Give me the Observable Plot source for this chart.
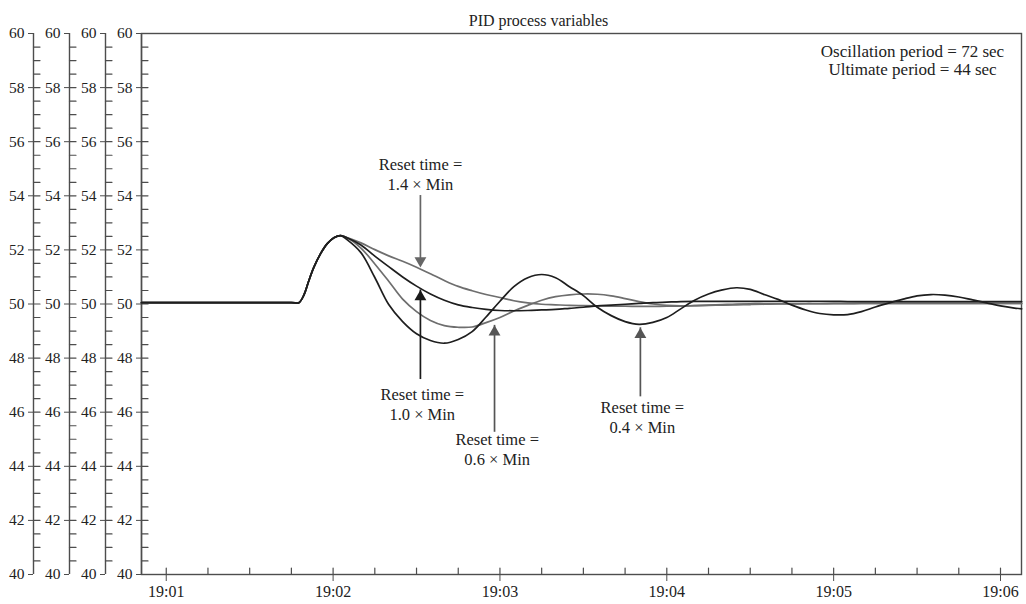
<!DOCTYPE html>
<html>
<head>
<meta charset="utf-8">
<script src="https://cdn.jsdelivr.net/npm/d3@7"></script>
<script src="https://cdn.jsdelivr.net/npm/@observablehq/plot@0.6"></script>
<style>
  body { margin: 0; background: #fff; }
</style>
</head>
<body>
<div id="chart"></div>
<script>
// Sample times, in seconds after 19:00:00
const seconds = [51.1, 105, 107.7, 109.5, 111.3, 113.1, 115.5, 117.9, 120.3, 122.7,
  125, 130, 135, 140, 145, 150, 155, 160, 165, 170,
  175, 180, 185, 190, 195, 200, 205, 210, 215, 220,
  225, 230, 235, 240, 245, 250, 255, 260, 265, 270,
  275, 280, 285, 290, 295, 300, 305, 310, 315, 320,
  325, 330, 335, 340, 345, 350, 355, 360, 365, 367.6];

// Process variable for each reset time setting
const reset04 = [50.05, 50.05, 50.05, 50.33, 50.87, 51.36, 51.86, 52.23, 52.45, 52.53,
  52.38, 51.9, 50.98, 49.98, 49.35, 48.9, 48.65, 48.55, 48.69, 48.98,
  49.52, 50.1, 50.64, 50.97, 51.09, 50.97, 50.64, 50.31, 49.88, 49.57,
  49.35, 49.25, 49.32, 49.5, 49.82, 50.14, 50.37, 50.52, 50.6, 50.54,
  50.35, 50.17, 49.96, 49.78, 49.65, 49.6, 49.61, 49.72, 49.89, 50.04,
  50.18, 50.3, 50.35, 50.33, 50.26, 50.15, 50.04, 49.93, 49.85, 49.82];
const reset06 = [50.05, 50.05, 50.05, 50.33, 50.87, 51.36, 51.86, 52.23, 52.45, 52.53,
  52.45, 52.07, 51.48, 50.84, 50.18, 49.72, 49.39, 49.2, 49.14, 49.15,
  49.31, 49.5, 49.74, 49.95, 50.14, 50.27, 50.34, 50.37, 50.36, 50.3,
  50.2, 50.09, 50.0, 49.95, 49.93, 49.94, 49.95, 49.96, 49.97, 49.98,
  49.99, 50.0, 50.0, 50.01, 50.01, 50.02, 50.02, 50.02, 50.02, 50.02,
  50.02, 50.02, 50.02, 50.02, 50.02, 50.02, 50.02, 50.02, 50.02, 50.02];
const reset10 = [50.05, 50.05, 50.05, 50.33, 50.87, 51.36, 51.86, 52.23, 52.45, 52.53,
  52.45, 52.18, 51.77, 51.38, 51.0, 50.66, 50.37, 50.14, 49.97, 49.87,
  49.8, 49.76, 49.75, 49.76, 49.78, 49.8, 49.84, 49.88, 49.93, 49.96,
  49.99, 50.02, 50.05, 50.07, 50.09, 50.1, 50.1, 50.1, 50.1, 50.1,
  50.1, 50.1, 50.1, 50.1, 50.1, 50.1, 50.09, 50.09, 50.09, 50.09,
  50.09, 50.09, 50.09, 50.09, 50.09, 50.09, 50.09, 50.09, 50.09, 50.09];
const reset14 = [50.05, 50.05, 50.05, 50.33, 50.87, 51.36, 51.86, 52.23, 52.45, 52.53,
  52.46, 52.26, 52.01, 51.78, 51.58, 51.36, 51.12, 50.87, 50.65, 50.49,
  50.35, 50.24, 50.12, 50.04, 49.99, 49.97, 49.95, 49.94, 49.93, 49.92,
  49.92, 49.91, 49.91, 49.92, 49.92, 49.94, 49.96, 49.98, 50.0, 50.01,
  50.01, 50.01, 50.01, 50.01, 50.01, 50.01, 50.01, 50.02, 50.02, 50.02,
  50.02, 50.02, 50.02, 50.02, 50.02, 50.02, 50.02, 50.02, 50.02, 50.02];

// Arrow annotations: time (s), tail value, tip value, label position
const noteText = ["Reset time =\n1.4 × Min", "Reset time =\n1.0 × Min", "Reset time =\n0.6 × Min", "Reset time =\n0.4 × Min"];
const noteTime = [151.4, 151.4, 178.05, 230.5];
const noteTail = [54.01, 47.54, 45.59, 46.9];
const noteTip = [51.35, 50.52, 49.21, 49.12];
const noteLabelTime = [151.4, 152.05, 179.0, 231.2];
const noteLabelValue = [54.81, 46.32, 44.64, 45.83];

const yTickLabels = [40, 42, 44, 46, 48, 50, 52, 54, 56, 58, 60];
const xTickLabels = ["19:01", "19:02", "19:03", "19:04", "19:05", "19:06"];

const title = "PID process variables";
const periodNote = "Oscillation period = 72 sec\nUltimate period = 44 sec";

// ---------------------------------------------------------------
const base = Date.UTC(2024, 0, 1, 19, 0, 0);
const at = s => new Date(base + s * 1000);
const x0 = at(51.1), x1 = at(367.55);

const dark = "#1e1e1e", gray = "#6e6e6e", axisInk = "#4d4d4d", textInk = "#222";

const series = [
  {values: reset14, stroke: gray},
  {values: reset06, stroke: gray},
  {values: reset10, stroke: dark},
  {values: reset04, stroke: dark}
];
const arrowInk = ["#666", "#1a1a1a", "#555", "#555"];

const notes = noteText.map((text, i) => ({
  text, time: at(noteTime[i]), tail: noteTail[i], tip: noteTip[i],
  lt: at(noteLabelTime[i]), lv: noteLabelValue[i], ink: arrowInk[i],
  down: noteTip[i] < noteTail[i]
}));

const xTickDates = xTickLabels.map(s => {
  const [h, m] = s.split(":").map(Number);
  return new Date(Date.UTC(2024, 0, 1, h, m, 0));
});
const xInner = d3.range(60, 361, 15).map(at);
const yInner = d3.range(40.5, 60, 0.5);

// a plain tick stroke drawn from the anchor point upwards (before rotation)
const tickShape = {draw(context, l) { context.moveTo(0, 0); context.lineTo(0, -l); }};

const marks = [];

// four stacked value axes on the left
for (const off of [0, -36, -72, -108]) {
  marks.push(Plot.ruleX([x0], {y1: 40, y2: 60, dx: off, stroke: axisInk, strokeWidth: 1.4}));
  marks.push(Plot.axisY({
    anchor: "left", ticks: yTickLabels, tickSize: 5, tickPadding: 4, dx: off,
    tickFormat: d => String(d), stroke: axisInk, fill: textInk, fontSize: 15.5, label: null
  }));
  marks.push(Plot.vector(yInner, {
    x: () => x0, y: d => d, length: 6.5, rotate: 90, anchor: "start",
    shape: tickShape, dx: off, stroke: axisInk, strokeWidth: 1.2
  }));
}

// time axis
marks.push(Plot.axisX({
  ticks: xTickDates, tickSize: 7, tickPadding: 4, tickFormat: d3.utcFormat("%H:%M"),
  stroke: axisInk, fill: textInk, fontSize: 16, label: null
}));
marks.push(Plot.vector(xInner, {
  x: d => d, y: () => 40, length: 6.5, anchor: "start",
  shape: tickShape, stroke: axisInk, strokeWidth: 1.2
}));

marks.push(Plot.frame({stroke: axisInk, strokeWidth: 1.4}));

// process variable traces
for (const s of series) {
  marks.push(Plot.line(seconds.map((t, i) => ({time: at(t), value: s.values[i]})), {
    x: "time", y: "value", curve: "catmull-rom", stroke: s.stroke, strokeWidth: 1.7
  }));
}

// annotation arrows
const downs = notes.filter(d => d.down), ups = notes.filter(d => !d.down);
marks.push(Plot.ruleX(downs, {x: "time", y1: "tail", y2: "tip", stroke: "ink", insetBottom: 9, strokeWidth: 1.7}));
marks.push(Plot.ruleX(ups, {x: "time", y1: "tail", y2: "tip", stroke: "ink", insetTop: 9, strokeWidth: 1.7}));
marks.push(Plot.dot(downs, {x: "time", y: "tip", symbol: "triangle", r: 4.4, fill: "ink", rotate: 180, dy: -6.8}));
marks.push(Plot.dot(ups, {x: "time", y: "tip", symbol: "triangle", r: 4.4, fill: "ink", dy: 6.8}));
marks.push(Plot.text(notes, {
  x: "lt", y: "lv", text: "text", lineAnchor: "middle", lineHeight: 1.2,
  fontSize: 16.5, fill: textInk
}));

// title and period note
marks.push(Plot.text([title], {frameAnchor: "top", dx: -43, dy: -19, fontSize: 16, fill: textInk}));
marks.push(Plot.text([periodNote], {
  frameAnchor: "top-right", dx: -109, dy: 26.5, textAnchor: "middle",
  lineAnchor: "middle", lineHeight: 1.05, fontSize: 17, fill: textInk
}));

const chart = Plot.plot({
  width: 1026,
  height: 604,
  marginLeft: 141,
  marginRight: 5,
  marginTop: 33,
  marginBottom: 30,
  x: {type: "utc", domain: [x0, x1]},
  y: {domain: [40, 60]},
  color: {type: "identity"},
  style: {fontFamily: "'Liberation Serif', 'Times New Roman', serif", fontSize: "15px", background: "#fff", overflow: "visible"},
  marks
});
document.getElementById("chart").append(chart);
</script>
</body>
</html>
